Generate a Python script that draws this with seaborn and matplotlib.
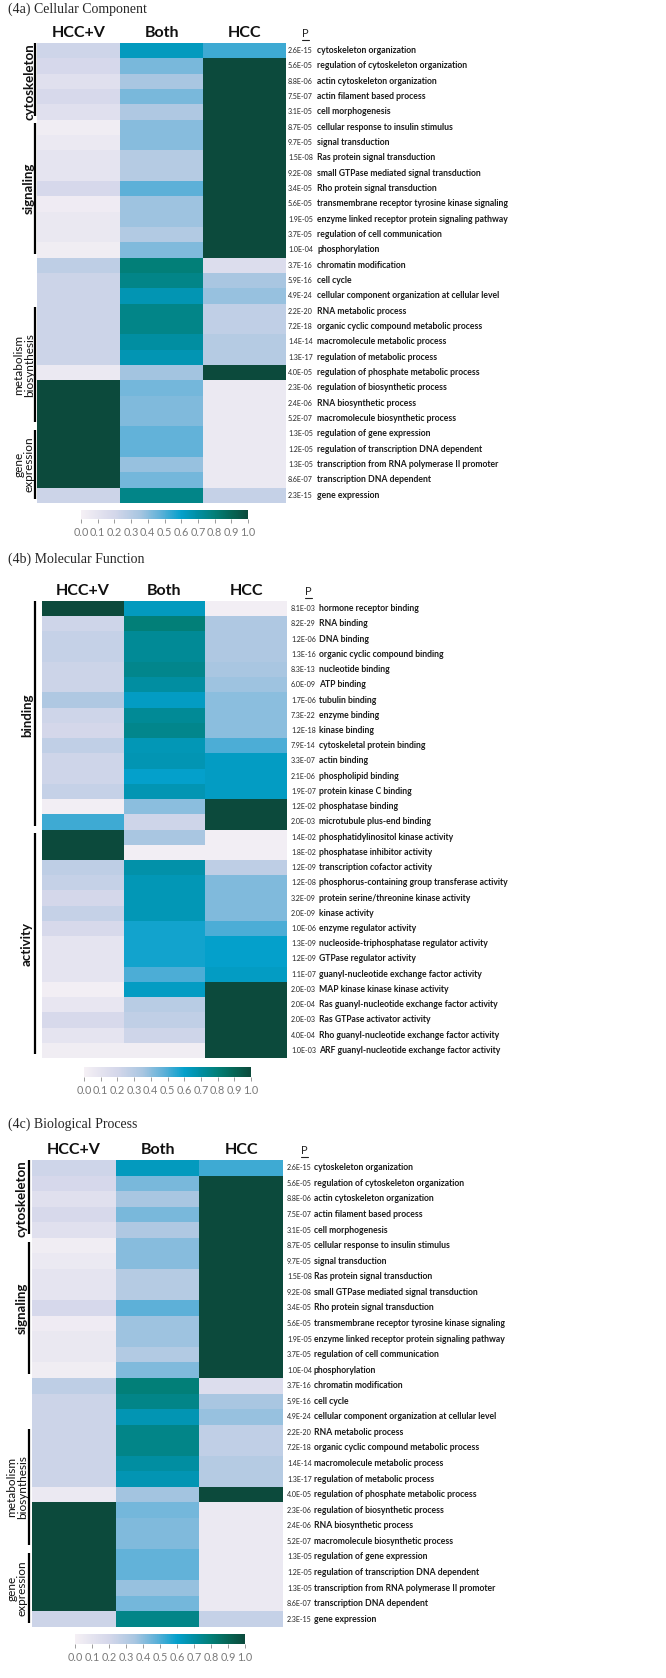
import numpy as np
import pandas as pd
import matplotlib
matplotlib.use("Agg")
import matplotlib.pyplot as plt
import seaborn as sns
from matplotlib.colors import LinearSegmentedColormap
from matplotlib.lines import Line2D
from matplotlib.transforms import offset_copy

# ---- data -------------------------------------------------------------
columns = ["HCC+V", "Both", "HCC"]

# panels (4a) and (4c) show the same term list
proc_terms = [
    "cytoskeleton organization", "regulation of cytoskeleton organization",
    "actin cytoskeleton organization", "actin filament based process",
    "cell morphogenesis", "cellular response to insulin stimulus",
    "signal transduction", "Ras protein signal transduction",
    "small GTPase mediated signal transduction", "Rho protein signal transduction",
    "transmembrane receptor tyrosine kinase signaling",
    "enzyme linked receptor protein signaling pathway",
    "regulation of cell communication", "phosphorylation",
    "chromatin modification", "cell cycle",
    "cellular component organization at cellular level", "RNA metabolic process",
    "organic cyclic compound metabolic process", "macromolecule metabolic process",
    "regulation of metabolic process", "regulation of phosphate metabolic process",
    "regulation of biosynthetic process", "RNA biosynthetic process",
    "macromolecule biosynthetic process", "regulation of gene expression",
    "regulation of transcription DNA dependent",
    "transcription from RNA polymerase II promoter",
    "transcription DNA dependent", "gene expression",
]
proc_pvals = [
    "2.6E-15", "5.6E-05", "8.8E-06", "7.5E-07", "3.1E-05", "8.7E-05", "9.7E-05",
    "1.5E-08", "9.2E-08", "3.4E-05", "5.6E-05", "1.9E-05", "3.7E-05", "1.0E-04",
    "3.7E-16", "5.9E-16", "4.9E-24", "2.2E-20", "7.2E-18", "1.4E-14", "1.3E-17",
    "4.0E-05", "2.3E-06", "2.4E-06", "5.2E-07", "1.3E-05", "1.2E-05", "1.3E-05",
    "8.6E-07", "2.3E-15",
]
proc_hccv = [0.22, 0.19, 0.13, 0.18, 0.13, 0.03, 0.06, 0.10, 0.10, 0.19,
             0.04, 0.07, 0.07, 0.03, 0.28, 0.23, 0.23, 0.23, 0.23, 0.23,
             0.23, 0.06, 1.00, 1.00, 1.00, 1.00, 1.00, 1.00, 1.00, 0.23]
proc_both = [0.63, 0.43, 0.35, 0.43, 0.33, 0.41, 0.41, 0.31, 0.31, 0.48,
             0.37, 0.37, 0.32, 0.42, 0.80, 0.76, 0.66, 0.76, 0.76, 0.70,
             0.66, 0.36, 0.44, 0.42, 0.42, 0.47, 0.47, 0.38, 0.44, 0.76]
proc_hcc = [0.52, 1.00, 1.00, 1.00, 1.00, 1.00, 1.00, 1.00, 1.00, 1.00,
            1.00, 1.00, 1.00, 1.00, 0.15, 0.35, 0.38, 0.27, 0.27, 0.31,
            0.31, 1.00, 0.06, 0.06, 0.06, 0.06, 0.06, 0.06, 0.06, 0.25]
proc_groups = [("cytoskeleton", 0, 5), ("signaling", 5, 14),
               ("metabolism\nbiosynthesis", 17, 25), ("gene\nexpression", 25, 30)]

func_terms = [
    "hormone receptor binding", "RNA binding", "DNA binding",
    "organic cyclic compound binding", "nucleotide binding", "ATP binding",
    "tubulin binding", "enzyme binding", "kinase binding",
    "cytoskeletal protein binding", "actin binding", "phospholipid binding",
    "protein kinase C binding", "phosphatase binding",
    "microtubule plus-end binding", "phosphatidylinositol kinase activity",
    "phosphatase inhibitor activity", "transcription cofactor activity",
    "phosphorus-containing group transferase activity",
    "protein serine/threonine kinase activity", "kinase activity",
    "enzyme regulator activity", "nucleoside-triphosphatase regulator activity",
    "GTPase regulator activity", "guanyl-nucleotide exchange factor activity",
    "MAP kinase kinase kinase activity",
    "Ras guanyl-nucleotide exchange factor activity", "Ras GTPase activator activity",
    "Rho guanyl-nucleotide exchange factor activity",
    "ARF guanyl-nucleotide exchange factor activity",
]
func_pvals = [
    "8.1E-03", "8.2E-29", "1.2E-06", "1.3E-16", "8.3E-13", "6.0E-09", "1.7E-06",
    "7.3E-22", "1.2E-18", "7.9E-14", "3.3E-07", "2.1E-06", "1.9E-07", "1.2E-02",
    "2.0E-03", "1.4E-02", "1.8E-02", "1.2E-09", "1.2E-08", "3.2E-09", "2.0E-09",
    "1.0E-06", "1.3E-09", "1.2E-09", "1.1E-07", "2.0E-03", "2.0E-04", "2.0E-03",
    "4.0E-04", "1.0E-03",
]
func_hccv = [1.00, 0.22, 0.25, 0.25, 0.23, 0.23, 0.33, 0.22, 0.20, 0.27,
             0.22, 0.22, 0.25, 0.02, 0.52, 1.00, 1.00, 0.28, 0.25, 0.20,
             0.25, 0.18, 0.10, 0.10, 0.10, 0.02, 0.08, 0.18, 0.10, 0.03]
func_both = [0.63, 0.80, 0.73, 0.73, 0.75, 0.70, 0.62, 0.73, 0.75, 0.65,
             0.66, 0.60, 0.66, 0.40, 0.22, 0.35, 0.02, 0.68, 0.65, 0.65,
             0.65, 0.58, 0.58, 0.58, 0.50, 0.62, 0.30, 0.27, 0.22, 0.03]
func_hcc = [0.02, 0.33, 0.33, 0.33, 0.35, 0.37, 0.40, 0.40, 0.40, 0.50,
            0.62, 0.62, 0.62, 1.00, 1.00, 0.02, 0.02, 0.28, 0.42, 0.42,
            0.42, 0.50, 0.60, 0.60, 0.62, 1.00, 1.00, 1.00, 1.00, 1.00]
func_groups = [("binding", 0, 15), ("activity", 15, 30)]

cbar_ticks = [0.0, 0.1, 0.2, 0.3, 0.4, 0.5, 0.6, 0.7, 0.8, 0.9, 1.0]

# ---- style ------------------------------------------------------------
sns.set_style("white")
plt.rcParams["font.family"] = ["Lato", "DejaVu Sans"]

cmap = LinearSegmentedColormap.from_list("go", [
    (0.00, "#f5f0f5"), (0.20, "#d4d7ea"), (0.35, "#a9c6e1"), (0.48, "#5cb0d8"),
    (0.60, "#04a0cb"), (0.70, "#018ea2"), (0.80, "#027f78"), (0.90, "#066656"),
    (1.00, "#0c4a3c")])

W, H = 666, 1678
fig = plt.figure(figsize=(W / 100, H / 100), dpi=100)


def box(x0, y0, x1, y1):
    return [x0 / W, 1 - y1 / H, (x1 - x0) / W, (y1 - y0) / H]


def panel(title, ty, hm, cb, terms, pvals, hccv, both, hcc, groups,
          p_dx, lab_dx, line_dx, glab_dx, glab2_dx):
    fig.text(8 / W, 1 - ty / H, title, family="Liberation Serif", fontsize=10,
             va="center", ha="left")
    df = pd.DataFrame({"HCC+V": hccv, "Both": both, "HCC": hcc}, index=terms)
    ax = fig.add_axes(box(*hm))
    cax = fig.add_axes(box(*cb))
    sns.heatmap(df[columns], ax=ax, cmap=cmap, vmin=0, vmax=1, cbar_ax=cax,
                cbar_kws={"orientation": "horizontal", "ticks": cbar_ticks},
                xticklabels=False, yticklabels=False)
    ax.set_xlabel("")
    ax.set_ylabel("")

    # column headers
    for j, name in enumerate(columns):
        ax.text(j + 0.5, -0.2, name, ha="center", va="bottom",
                fontsize=11.5, fontweight="bold", color="#111111")

    # underlined P header
    px = hm[2] + p_dx + 14
    fig.text(px / W, 1 - (hm[1] - 4) / H, "P", fontsize=8, ha="left",
             va="bottom", color="#222222")
    fig.add_artist(Line2D([(px - 0.5) / W, (px + 6.5) / W],
                          [1 - (hm[1] - 3) / H] * 2, color="#222222", lw=0.8))

    # row labels: p-value + term
    ytr = ax.get_yaxis_transform()
    ptrans = offset_copy(ytr, fig=fig, x=p_dx, units="dots")
    ltrans = offset_copy(ytr, fig=fig, x=lab_dx, units="dots")
    for i, (term, p) in enumerate(zip(terms, pvals)):
        ax.text(1, i + 0.5, p, transform=ptrans, fontsize=5.1, va="center",
                ha="left", color="#222222")
        ax.text(1, i + 0.5, term, transform=ltrans, fontsize=6.2, va="center",
                ha="left", color="#1a1a1a", fontweight="bold")

    # group brackets on the left
    ltr = offset_copy(ytr, fig=fig, x=line_dx, units="dots")
    for name, r0, r1 in groups:
        a = r0 + (0.0 if r0 == 0 else 0.25)
        b = r1 - 0.25
        ax.plot([0, 0], [a, b], transform=ltr, color="black", lw=1.6,
                clip_on=False, solid_capstyle="butt")
        two = "\n" in name
        gtr = offset_copy(ytr, fig=fig, x=glab2_dx if two else glab_dx, units="dots")
        ax.text(0, (r0 + r1) / 2, name, transform=gtr, rotation=90,
                ha="center", va="center", fontsize=8.5 if two else 9.5,
                fontweight="normal" if two else "bold", color="#111111",
                linespacing=0.95)

    # colorbar styling
    cbar = ax.collections[0].colorbar
    cbar.outline.set_visible(False)
    cax.tick_params(axis="x", length=3, width=0.7, color="#9a9a9a",
                    labelsize=7.8, labelcolor="#7a7a7a", pad=3)
    cax.set_xticklabels([f"{t:.1f}" for t in cbar_ticks])
    return ax


panel("(4a) Cellular Component", 9, (37, 43, 286, 503), (81, 510, 248, 519),
      proc_terms, proc_pvals, proc_hccv, proc_both, proc_hcc, proc_groups,
      2, 31, -2, -8, -13)
panel("(4b) Molecular Function", 559, (42, 601, 287, 1058), (84, 1067, 251, 1077),
      func_terms, func_pvals, func_hccv, func_both, func_hcc, func_groups,
      4, 32, -7, -15, -15)
panel("(4c) Biological Process", 1124, (32, 1160, 283, 1627), (75, 1634, 245, 1644),
      proc_terms, proc_pvals, proc_hccv, proc_both, proc_hcc, proc_groups,
      4, 31, -3, -10, -15)

fig.savefig("out.png", dpi=100, facecolor="white")
